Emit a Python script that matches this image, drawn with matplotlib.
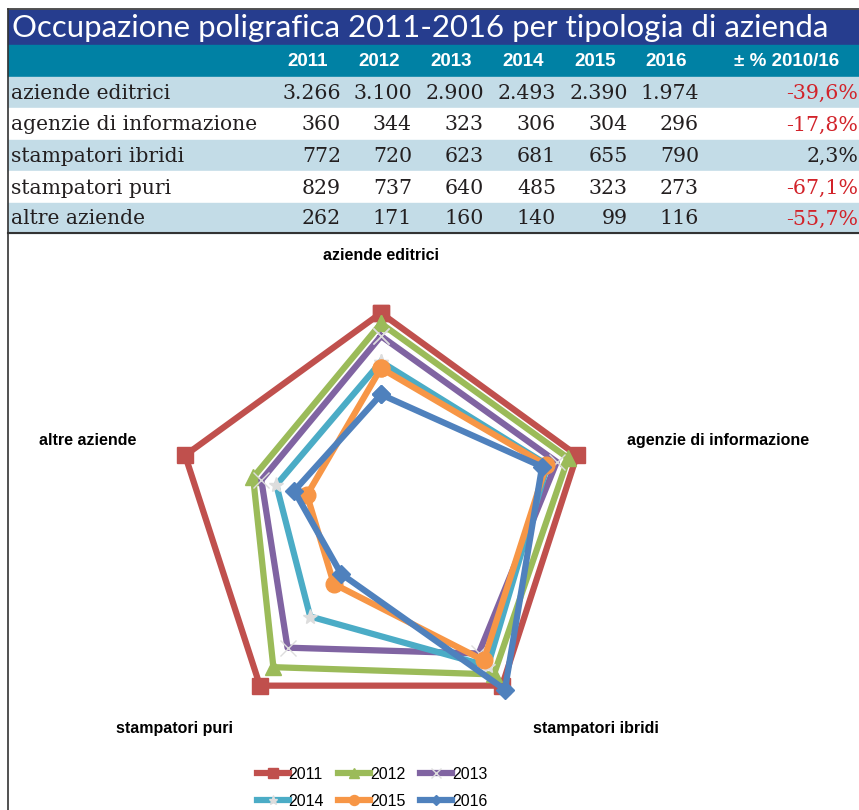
import matplotlib.pyplot as plt
import numpy as np
from matplotlib.lines import Line2D
from matplotlib.patches import Rectangle

# Data
titolo = 'Occupazione poligrafica 2011-2016 per tipologia di azienda'
anni = ['2011', '2012', '2013', '2014', '2015', '2016']
categorie = ['aziende editrici', 'agenzie di informazione', 'stampatori ibridi',
             'stampatori puri', 'altre aziende']
v2011 = [3266, 360, 772, 829, 262]
v2012 = [3100, 344, 720, 737, 171]
v2013 = [2900, 323, 623, 640, 160]
v2014 = [2493, 306, 681, 485, 140]
v2015 = [2390, 304, 655, 323, 99]
v2016 = [1974, 296, 790, 273, 116]
variazione = ['-39,6%', '-17,8%', '2,3%', '-67,1%', '-55,7%']

serie = [v2011, v2012, v2013, v2014, v2015, v2016]
colori = ['#C0504D', '#9BBB59', '#8064A2', '#4BACC6', '#F79646', '#4F81BD']
marker = ['s', '^', 'x', '*', 'o', 'D']

W, H = 859, 810
fig = plt.figure(figsize=(W / 100, H / 100), dpi=100)


def fx(px):
    return px / W


def fy(py):
    return 1 - py / H


def box(x0, y0, x1, y1, color):
    fig.patches.append(Rectangle((fx(x0), fy(y1)), fx(x1 - x0), (y1 - y0) / H,
                                 transform=fig.transFigure, color=color, zorder=0))


# table
box(8, 10, W, 45, '#263D8E')
box(8, 45, W, 77, '#0081A4')
righe_y = [77, 108, 140, 171, 203, 233]
for i in range(5):
    col = '#C3DCE7' if i % 2 == 0 else 'white'
    box(8, righe_y[i], W, righe_y[i + 1], col)

fig.text(fx(12), fy(28), titolo, color='white', fontsize=22.4, family='Lato',
         va='center', ha='left')

col_x = [341, 412, 484, 556, 628, 699]
for x, a in zip(col_x, anni):
    fig.text(fx(x - 33), fy(62), a, color='white', fontsize=13.5, weight='bold',
             family='Liberation Sans', ha='center', va='center')
fig.text(fx(787), fy(62), '± % 2010/16', color='white', fontsize=13.5, weight='bold',
         family='Liberation Sans', ha='center', va='center')

for i, cat in enumerate(categorie):
    yc = (righe_y[i] + righe_y[i + 1]) / 2 + 1
    fig.text(fx(11), fy(yc), cat, fontsize=14.6, family='DejaVu Serif',
             ha='left', va='center', color='#231F20')
    for x, s in zip(col_x, serie):
        txt = f'{s[i]:,}'.replace(',', '.')
        fig.text(fx(x), fy(yc), txt, fontsize=14.8, family='DejaVu Serif',
                 ha='right', va='center', color='#231F20')
    c = '#231F20' if not variazione[i].startswith('-') else '#D2232A'
    fig.text(fx(858), fy(yc), variazione[i], fontsize=14.8, family='DejaVu Serif',
             ha='right', va='center', color=c)

# frame lines
fig.add_artist(Line2D([fx(8), fx(W)], [fy(9), fy(9)], color='#333333', lw=1.2,
                      transform=fig.transFigure))
fig.add_artist(Line2D([fx(8), fx(8)], [fy(9), fy(H)], color='#333333', lw=1.2,
                      transform=fig.transFigure))
fig.add_artist(Line2D([fx(8), fx(W)], [fy(233), fy(233)], color='#333333', lw=1.5,
                      transform=fig.transFigure))

# radar, each category scaled on its 2011 value
cx, cy, R = 381, 519, 206
ax = fig.add_axes([fx(cx - R), fy(cy + R), fx(2 * R), 2 * R / H], projection='polar')
ang = np.linspace(0, 2 * np.pi, len(categorie), endpoint=False)
ang_c = np.append(ang, ang[0])
for s, a, c, m in zip(serie, anni, colori, marker):
    r = np.array(s) / np.array(v2011)
    r = np.append(r, r[0])
    ms = 12 if m in ('s', 'o') else 11
    if m == 'D':
        ms = 9
    mc = c
    if m in ('x', '*'):
        mc = '#DDDDDD'
    ax.plot(ang_c, r, color=c, lw=4.5, marker=m, markersize=ms,
            markerfacecolor=mc, markeredgecolor=mc, label=a, clip_on=False)
ax.set_theta_offset(np.pi / 2)
ax.set_theta_direction(-1)
ax.set_ylim(0, 1)
ax.set_xticks([])
ax.set_yticks([])
ax.grid(False)
ax.spines['polar'].set_visible(False)
ax.patch.set_alpha(0)

lab_pos = [(381, 255), (718, 441), (596, 729), (174, 729), (88, 441)]
for cat, (x, y) in zip(categorie, lab_pos):
    fig.text(fx(x), fy(y), cat, fontsize=11.5, weight='bold', family='Liberation Sans',
             ha='center', va='center')

# legend filled row by row, like the original
h, l = ax.get_legend_handles_labels()
ordine = [0, 3, 1, 4, 2, 5]
fig.legend([h[i] for i in ordine], [l[i] for i in ordine], loc='center',
           bbox_to_anchor=(fx(372), fy(788)), ncol=3, frameon=False,
           prop={'family': 'Liberation Sans', 'size': 11.5},
           handlelength=2.0, handletextpad=0.0, columnspacing=0.9, markerscale=0.6,
           labelspacing=0.75)

fig.savefig('out.png', dpi=100)
